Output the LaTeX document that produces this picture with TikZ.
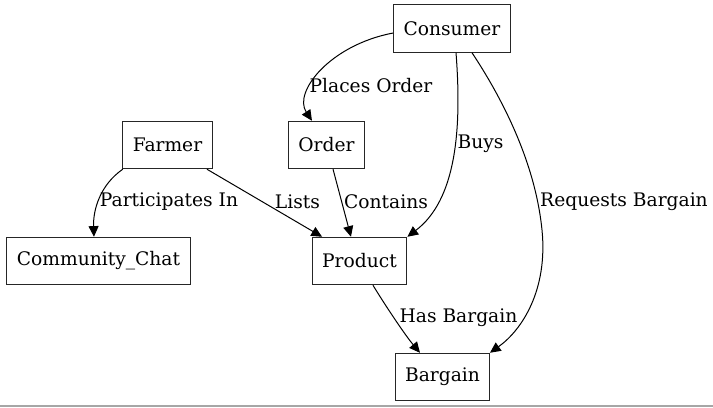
\documentclass[tikz,border=0pt]{standalone}
\usepackage{fontspec}
\setmainfont{DejaVu Serif}
\usetikzlibrary{arrows.meta}
\begin{document}
\begin{tikzpicture}[x=0.75pt, y=-0.75pt, every node/.style={font=\fontsize{14}{17}\selectfont},
  box/.style={draw,line width=0.85pt,draw=black!85,minimum height=35.5pt,inner xsep=7.5pt,inner ysep=0pt},
  edge/.style={-{Triangle[length=8pt,width=7.5pt]},line width=0.75pt},
  lbl/.style={inner sep=0pt}]
\useasboundingbox (0,0) rectangle (713,407);
% nodes
\node[box] (consumer) at (452,28.5) {Consumer};
\node[box] (farmer) at (167.5,145) {Farmer};
\node[box] (order) at (326.5,145) {Order};
\node[box] (chat) at (98.5,261) {Community\_Chat};
\node[box] (product) at (359.5,261) {Product};
\node[box] (bargain) at (442.5,377) {Bargain};
% edges
\draw[edge] ([yshift=-3.4pt]consumer.west) .. controls (330,45) and (293,92) .. ([xshift=-10.9pt]order.north);
\draw[edge] ([xshift=3pt]consumer.south) .. controls (462,130) and (456,200) .. (product.north east);
\draw[edge] ([xshift=15pt]consumer.south) .. controls (500,95) and (535,160) .. (542,230)
  .. controls (548,290) and (522,330) .. ([xshift=-0.4pt]bargain.north east);
\draw[edge] ([xshift=0.4pt]farmer.south west) .. controls (100,185) and (93,210) .. ([xshift=-3.4pt]chat.north);
\draw[edge] ([xshift=29.6pt]farmer.south) -- ([xshift=-28.1pt]product.north);
\draw[edge] ([xshift=4.9pt]order.south) -- ([xshift=-6.4pt]product.north);
\draw[edge] ([xshift=10.1pt]product.south) .. controls (385,305) and (405,335) .. ([xshift=-16.9pt]bargain.north);
% labels
\node[lbl] (lplaces) at (371,86) {Places Order};
\node[lbl] (lbuys) at (480.5,144) {Buys};
\node[lbl] (lrequests) at (624,202) {Requests Bargain};
\node[lbl] (lpart) at (169,202) {Participates In};
\node[lbl] (llists) at (297.5,202) {Lists};
\node[lbl] (lcontains) at (386,202) {Contains};
\node[lbl] (lhas) at (458.5,318) {Has Bargain};
% bottom rule
\draw[gray!70,line width=1.5] (0,405.5) -- (713,405.5);
\end{tikzpicture}
\end{document}
